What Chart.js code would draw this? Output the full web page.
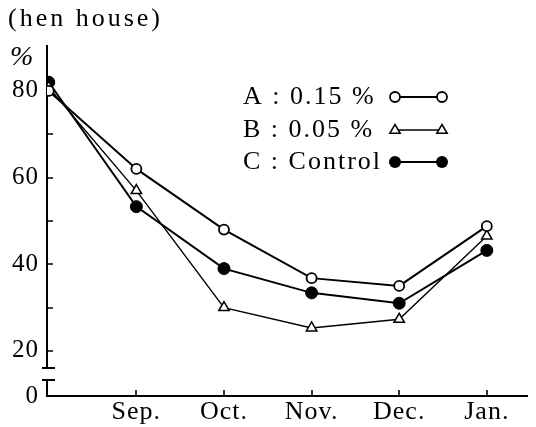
<!DOCTYPE html>
<html><head><meta charset="utf-8">
<script src="https://cdn.jsdelivr.net/npm/chart.js@4"></script>
<style>html,body{margin:0;padding:0;background:#fff}#wrap{width:536px;height:427px}</style>
</head><body><div id="wrap"><canvas id="c" width="536" height="427"></canvas></div>
<script>
const categories = ['', 'Sep.', 'Oct.', 'Nov.', 'Dec.', 'Jan.'];
const seriesA = [80, 62, 48, 36.8, 35, 48.8];
const seriesB = [80.8, 57, 30, 25.3, 27.3, 46.5];
const seriesC = [82, 53.3, 39, 33.4, 31, 43.2];
const yTickValues = [20, 30, 40, 50, 60, 70, 80];
const yLabelValues = [20, 40, 60, 80];
const yZeroAt = 9.6;
const legendLabels = ['A : 0.15 %', 'B : 0.05 %', 'C : Control'];
const titleText = '(hen house)';
const unitText = '%';

const FONT = "'Liberation Serif', 'Times New Roman', serif";
const toXY = arr => arr.map((v, i) => ({x: i, y: v}));

const drawMarker = (ctx, style, x, y) => {
  ctx.save();
  ctx.strokeStyle = '#000';
  if (style === 'open') {
    ctx.lineWidth = 1.8; ctx.fillStyle = '#fff';
    ctx.beginPath(); ctx.arc(x, y, 5, 0, Math.PI * 2); ctx.fill(); ctx.stroke();
  } else if (style === 'tri') {
    ctx.lineWidth = 1.5; ctx.fillStyle = '#fff';
    const r = 5.5;
    ctx.beginPath();
    ctx.moveTo(x, y - r);
    ctx.lineTo(x + r * 0.95, y + r * 0.6);
    ctx.lineTo(x - r * 0.95, y + r * 0.6);
    ctx.closePath(); ctx.fill(); ctx.stroke();
  } else {
    ctx.fillStyle = '#000';
    ctx.beginPath(); ctx.arc(x, y, 6, 0, Math.PI * 2); ctx.fill();
  }
  ctx.restore();
};

const decor = {
  id: 'decor',
  beforeDraw(chart) {
    chart.ctx.letterSpacing = '1px';
  },
  beforeDatasetsDraw(chart) {
    const ctx = chart.ctx;
    const xs = chart.scales.x, ys = chart.scales.y;
    const ax = chart.chartArea.left, ab = chart.chartArea.bottom, at = chart.chartArea.top;
    ctx.save();
    ctx.strokeStyle = '#000';
    ctx.lineWidth = 2;
    // y axis with break
    const breakTop = 368, breakBot = 380;
    ctx.beginPath();
    ctx.moveTo(ax, at); ctx.lineTo(ax, breakTop);
    ctx.moveTo(ax, breakBot); ctx.lineTo(ax, ab);
    ctx.moveTo(ax - 5, breakTop); ctx.lineTo(ax + 8, breakTop);
    ctx.moveTo(ax - 5, breakBot); ctx.lineTo(ax + 8, breakBot);
    ctx.stroke();
    // x axis
    ctx.beginPath();
    ctx.moveTo(ax - 1, ab); ctx.lineTo(chart.chartArea.right, ab);
    ctx.stroke();
    // ticks
    ctx.lineWidth = 1.6;
    ctx.beginPath();
    yTickValues.forEach(v => {
      const py = Math.round(ys.getPixelForValue(v));
      ctx.moveTo(ax, py); ctx.lineTo(ax + 6, py);
    });
    for (let i = 1; i < categories.length; i++) {
      const px = Math.round(xs.getPixelForValue(i));
      ctx.moveTo(px, ab); ctx.lineTo(px, ab - 6);
    }
    ctx.stroke();
    // title and unit
    ctx.fillStyle = '#000';
    ctx.textBaseline = 'middle';
    ctx.textAlign = 'left';
    ctx.letterSpacing = '3px';
    ctx.font = "26px " + FONT;
    ctx.fillText(titleText, 8, 19);
    ctx.letterSpacing = '0px';
    ctx.font = "italic 28px " + FONT;
    ctx.fillText(unitText, 10, 58);
    // legend
    ctx.font = "26px " + FONT;
    ctx.letterSpacing = '2px';
    const rows = [97, 130, 162];
    const styles = ['open', 'tri', 'fill'];
    legendLabels.forEach((t, i) => {
      ctx.fillText(t, 243, rows[i]);
      ctx.save();
      ctx.lineWidth = i === 1 ? 1.3 : 2;
      ctx.beginPath(); ctx.moveTo(395, rows[i]); ctx.lineTo(442, rows[i]); ctx.stroke();
      ctx.restore();
      drawMarker(ctx, styles[i], 395, rows[i]);
      drawMarker(ctx, styles[i], 442, rows[i]);
    });
    ctx.restore();
    ctx.letterSpacing = '1px';
  }
};

new Chart(document.getElementById('c'), {
  type: 'line',
  data: {
    datasets: [
      {label: legendLabels[0], data: toXY(seriesA), borderColor: '#000', borderWidth: 2,
       pointStyle: 'circle', pointRadius: 5, pointBackgroundColor: '#fff', pointBorderColor: '#000', pointBorderWidth: 1.8, tension: 0},
      {label: legendLabels[1], data: toXY(seriesB), borderColor: '#000', borderWidth: 1.4,
       pointStyle: 'triangle', pointRadius: 6, pointBackgroundColor: '#fff', pointBorderColor: '#000', pointBorderWidth: 1.5, tension: 0},
      {label: legendLabels[2], data: toXY(seriesC), borderColor: '#000', borderWidth: 2,
       pointStyle: 'circle', pointRadius: 6, pointBackgroundColor: '#000', pointBorderColor: '#000', pointBorderWidth: 1, tension: 0}
    ]
  },
  options: {
    responsive: false,
    animation: false,
    devicePixelRatio: 1,
    layout: {padding: {top: 45, right: 8, left: 0, bottom: 0}},
    plugins: {legend: {display: false}, tooltip: {enabled: false}},
    scales: {
      x: {
        type: 'linear', min: -0.02, max: 5.47,
        grid: {display: false}, border: {display: false},
        afterBuildTicks: s => { s.ticks = [1, 2, 3, 4, 5].map(v => ({value: v})); },
        afterFit: s => { s.height = 31; },
        ticks: {color: '#000', font: {family: FONT, size: 26}, padding: -7, autoSkip: false, maxRotation: 0,
          callback: v => categories[v] || ''}
      },
      y: {
        type: 'linear', min: yZeroAt, max: 90.6,
        grid: {display: false}, border: {display: false},
        afterBuildTicks: s => { s.ticks = [yZeroAt].concat(yTickValues).map(v => ({value: v})); },
        afterFit: s => { s.width = 47; },
        ticks: {color: '#000', font: {family: FONT, size: 25}, padding: 0, autoSkip: false,
          callback: v => v === yZeroAt ? '0' : (yLabelValues.includes(v) ? String(v) : '')}
      }
    }
  },
  plugins: [decor]
});
</script></body></html>
